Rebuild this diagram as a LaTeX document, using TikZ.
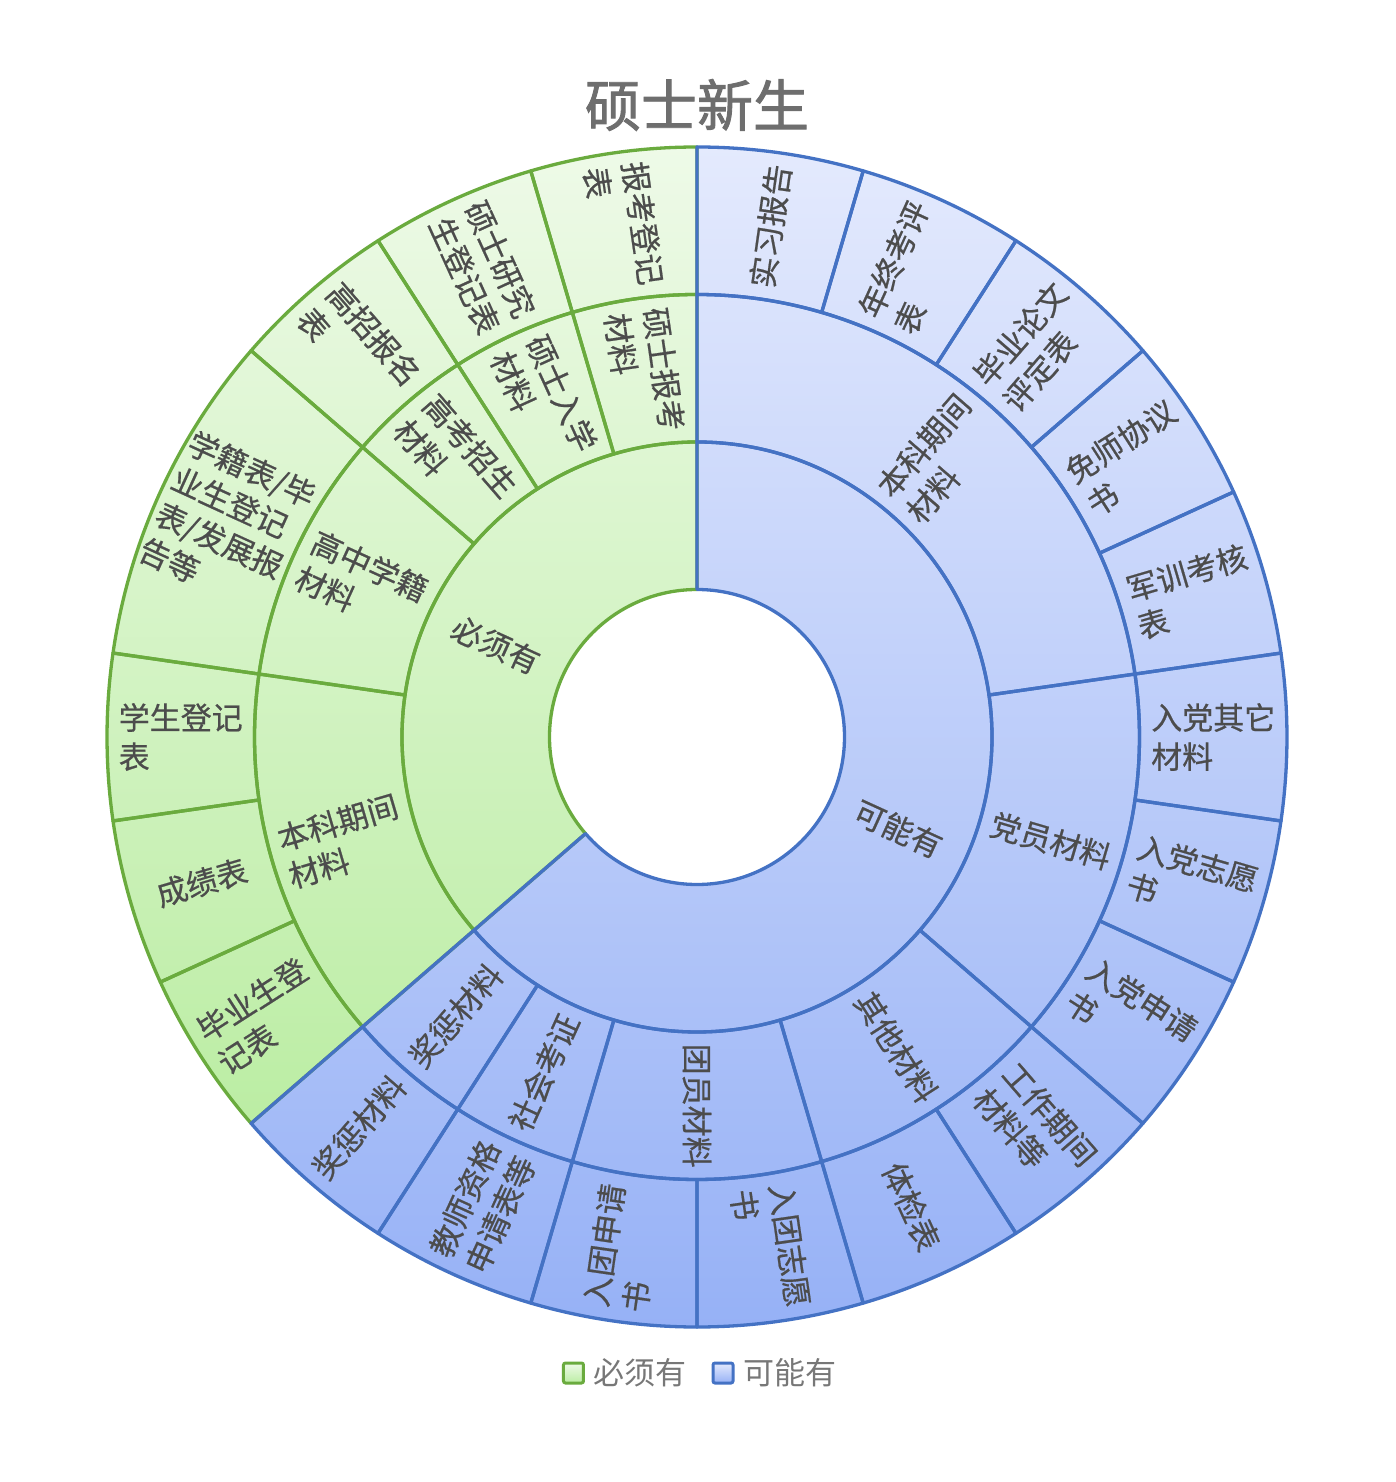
\documentclass[tikz,border=0pt]{standalone}
\usepackage{fontspec}
\setmainfont{Noto Sans CJK SC}
\newfontfamily\sblabfont{Noto Sans CJK SC}[FakeBold=0.6]
\newfontfamily\sbtitlefont{Noto Sans CJK SC}[FakeBold=1.6]
\definecolor{gline}{HTML}{6AAB3E}
\definecolor{bline}{HTML}{4472C4}
\definecolor{gtop}{HTML}{EEFAE8}
\definecolor{gbot}{HTML}{BBEDA3}
\definecolor{btop}{HTML}{E4EAFD}
\definecolor{bbot}{HTML}{96B1F6}
\definecolor{txt}{HTML}{4C4C4C}
\definecolor{ttl}{HTML}{6E6E6E}
\definecolor{legtxt}{HTML}{777777}
\tikzset{
  gseg/.style={draw=gline, line width=3.3pt, line join=round},
  bseg/.style={draw=bline, line width=3.3pt, line join=round},
  lbl/.style={text=txt, align=left, inner sep=0pt, anchor=center, font=\sblabfont\fontsize{31}{39}\selectfont},
}
% #1 style, #2 start unit, #3 end unit, #4 ring, #5 label
\newcommand\sbseg[5]{%
  \pgfmathsetmacro\sba{90+#2*360/22}%
  \pgfmathsetmacro\sbb{90+#3*360/22}%
  \pgfmathsetmacro\sbri{147.5*#4}%
  \pgfmathsetmacro\sbro{147.5*(#4+1)}%
  \pgfmathsetmacro\sbm{(\sba+\sbb)/2}%
  \pgfmathsetmacro\sbrm{(\sbri+\sbro)/2}%
  \pgfmathsetmacro\sbrot{\sbm<269.9 ? \sbm-180 : \sbm}%
  \draw[#1] (\sba:\sbri) arc[start angle=\sba, end angle=\sbb, radius=\sbri]
     -- (\sbb:\sbro) arc[start angle=\sbb, end angle=\sba, radius=\sbro] -- cycle;
  \node[lbl, rotate=\sbrot] (L#4-#2) at (\sbm:\sbrm) {#5};
}
\begin{document}
\begin{tikzpicture}[x=1pt, y=1pt]
\useasboundingbox (-697,-745) rectangle (699,737);
\pgfmathsetmacro\gend{90+8*360/22}
% gradient fills
\begin{scope}
  \clip (90:147.5) arc[start angle=90, end angle=\gend, radius=147.5]
     -- (\gend:590) arc[start angle=\gend, end angle=90, radius=590] -- cycle;
  \shade[top color=gtop, bottom color=gbot] (-600,-392) rectangle (600,592);
\end{scope}
\begin{scope}
  \clip (\gend:147.5) arc[start angle=\gend, end angle=450, radius=147.5]
     -- (450:590) arc[start angle=450, end angle=\gend, radius=590] -- cycle;
  \shade[top color=btop, bottom color=bbot] (-600,-592) rectangle (600,592);
\end{scope}
% green part
\sbseg{gseg}{0}{1}{3}{报考登记\\表}
\sbseg{gseg}{1}{2}{3}{硕士研究\\生登记表}
\sbseg{gseg}{2}{3}{3}{高招报名\\表}
\sbseg{gseg}{3}{5}{3}{学籍表/毕\\业生登记\\表/发展报\\告等}
\sbseg{gseg}{5}{6}{3}{学生登记\\表}
\sbseg{gseg}{6}{7}{3}{成绩表}
\sbseg{gseg}{7}{8}{3}{毕业生登\\记表}
\sbseg{gseg}{0}{1}{2}{硕士报考\\材料}
\sbseg{gseg}{1}{2}{2}{硕士入学\\材料}
\sbseg{gseg}{2}{3}{2}{高考招生\\材料}
\sbseg{gseg}{3}{5}{2}{高中学籍\\材料}
\sbseg{gseg}{5}{8}{2}{本科期间\\材料}
\sbseg{gseg}{0}{8}{1}{必须有}
% blue part
\sbseg{bseg}{8}{9}{3}{奖惩材料}
\sbseg{bseg}{9}{10}{3}{教师资格\\申请表等}
\sbseg{bseg}{10}{11}{3}{入团申请\\书}
\sbseg{bseg}{11}{12}{3}{入团志愿\\书}
\sbseg{bseg}{12}{13}{3}{体检表}
\sbseg{bseg}{13}{14}{3}{工作期间\\材料等}
\sbseg{bseg}{14}{15}{3}{入党申请\\书}
\sbseg{bseg}{15}{16}{3}{入党志愿\\书}
\sbseg{bseg}{16}{17}{3}{入党其它\\材料}
\sbseg{bseg}{17}{18}{3}{军训考核\\表}
\sbseg{bseg}{18}{19}{3}{免师协议\\书}
\sbseg{bseg}{19}{20}{3}{毕业论文\\评定表}
\sbseg{bseg}{20}{21}{3}{年终考评\\表}
\sbseg{bseg}{21}{22}{3}{实习报告}
\sbseg{bseg}{8}{9}{2}{奖惩材料}
\sbseg{bseg}{9}{10}{2}{社会考证}
\sbseg{bseg}{10}{12}{2}{团员材料}
\sbseg{bseg}{12}{14}{2}{其他材料}
\sbseg{bseg}{14}{17}{2}{党员材料}
\sbseg{bseg}{17}{22}{2}{本科期间\\材料}
\sbseg{bseg}{8}{22}{1}{可能有}
% title
\node[text=ttl, font=\sbtitlefont\fontsize{56}{60}\selectfont, inner sep=0pt] (title) at (0,632) {硕士新生};
% legend
\node[draw=gline, line width=3pt, top color=gtop, bottom color=gbot, minimum size=20pt, inner sep=0pt, rounded corners=2pt] (lg1) at (-123.5,-636) {};
\node[anchor=west, text=legtxt, inner sep=0pt, font=\fontsize{31}{31}\selectfont] (lt1) at (-104,-636) {必须有};
\node[draw=bline, line width=3pt, top color=btop, bottom color=bbot, minimum size=20pt, inner sep=0pt, rounded corners=2pt] (lg2) at (26,-636) {};
\node[anchor=west, text=legtxt, inner sep=0pt, font=\fontsize{31}{31}\selectfont] (lt2) at (46,-636) {可能有};
\end{tikzpicture}
\end{document}
